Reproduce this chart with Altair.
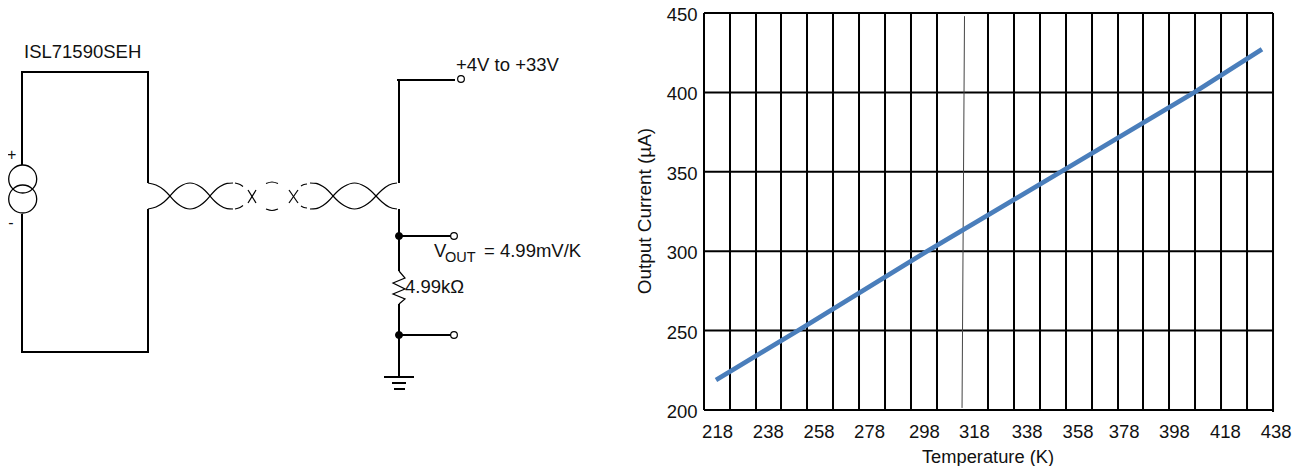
import altair as alt
import pandas as pd

FONT = "Liberation Sans"
INK = "#111111"

# ---------- temperature / current chart ----------
temp_read = [218.0, 249.7, 299.5, 351.2, 402.6, 428.8]
current_read = [218.9, 250.0, 300.0, 350.0, 400.0, 427.2]
grid_temp = [213.37, 223.41, 233.45, 243.1, 253.14, 263.18, 273.22, 283.26, 293.29, 303.33,
             323.02, 333.06, 343.1, 353.14, 363.18, 373.22, 382.87, 392.91, 402.95, 412.99,
             423.03, 433.07]
grid_floor = [200.0] * 21 + [198.8]
stray_temp = [313.95, 313.0]
stray_current = [448.0, 201.3]
y_ticks = [200, 250, 300, 350, 400, 450]
x_tick_names = ["218", "238", "258", "278", "298", "318", "338", "358", "378", "398", "418", "438"]
x_tick_at = [218.4, 238.0, 257.6, 277.1, 298.3, 317.6, 337.96, 357.6, 375.4, 394.8, 414.5, 434.1]

# ---------- schematic paths (drawing units) ----------
box_upper = [(22, 165), (22, 72), (148, 72), (148, 183)]
box_lower = [(22, 214), (22, 352), (148, 352), (148, 209)]
supply_top = [(397, 80), (455, 80)]
supply_rail = [(399, 80), (399, 183)]
rail_mid = [(399, 209), (399, 271)]
rail_low = [(399, 304), (399, 377)]
vout_lead = [(399, 236), (451, 236)]
return_lead = [(399, 335), (451, 335)]
ground_1 = [(384, 377), (414, 377)]
ground_2 = [(392, 383), (406, 383)]
ground_3 = [(394, 389), (405, 389)]
thick_paths = [box_upper, box_lower, supply_top, supply_rail, rail_mid, rail_low,
               vout_lead, return_lead, ground_1, ground_2, ground_3]

twist_a = [(148, 183), (156, 185), (164, 190), (170, 196)]
twist_b = [(148, 209), (156, 207), (164, 202), (170, 196)]
lobe1_t = [(170, 196), (175, 190.5), (180, 186.5), (190, 183), (200, 186.5), (205, 190.5), (210, 196)]
lobe1_b = [(170, 196), (175, 201.5), (180, 205.5), (190, 209), (200, 205.5), (205, 201.5), (210, 196)]
lobe2_t = [(210, 196), (215, 190.5), (220, 186.5), (227, 183.3), (233, 183)]
lobe2_b = [(210, 196), (215, 201.5), (220, 205.5), (227, 208.7), (233, 209)]
dash2_t = [(235, 183), (240, 184.5), (243, 186.5)]
dash2_b = [(235, 209), (240, 207.5), (243, 205.5)]
cross1_a = [(248, 190), (256, 203)]
cross1_b = [(248, 203), (256, 190)]
gap_t = [(266, 183.5), (272, 182), (278, 183.5)]
gap_b = [(266, 209), (272, 210.5), (278, 209)]
cross2_a = [(289, 190), (298, 203)]
cross2_b = [(289, 203), (298, 190)]
dash3_t = [(301, 186), (304, 184.5), (307, 184)]
dash3_b = [(301, 206), (304, 207.5), (307, 208)]
lobe3_t = [(310, 183), (316, 183.3), (323, 186.5), (328, 190.5), (333, 196)]
lobe3_b = [(310, 209), (316, 208.7), (323, 205.5), (328, 201.5), (333, 196)]
lobe4_t = [(333, 196), (338.5, 190.5), (344, 186.5), (354.5, 183), (365, 186.5), (370.5, 190.5), (376, 196)]
lobe4_b = [(333, 196), (338.5, 201.5), (344, 205.5), (354.5, 209), (365, 205.5), (370.5, 201.5), (376, 196)]
twist_c = [(376, 196), (382, 190), (389, 185), (397, 183)]
twist_d = [(376, 196), (382, 202), (389, 207), (397, 209)]
resistor = [(399, 271), (405, 278), (393, 283), (405, 289), (393, 294), (405, 299), (399, 304)]
thin_curves = [twist_a, twist_b, lobe1_t, lobe1_b, lobe2_t, lobe2_b, dash2_t, dash2_b,
               gap_t, gap_b, dash3_t, dash3_b, lobe3_t, lobe3_b, lobe4_t, lobe4_b,
               twist_c, twist_d]
thin_straight = [cross1_a, cross1_b, cross2_a, cross2_b, resistor]

coil_x = [22.7, 22.7]
coil_y = [179, 199]
dot_x = [399, 399]
dot_y = [236, 335]
term_x = [461, 454, 454]
term_y = [79, 236, 335]

label_text = ["ISL71590SEH", "+4V to +33V", "V", "= 4.99mV/K", "4.99k\u03a9"]
label_x = [24, 456, 434, 484, 405]
label_y = [58, 71, 257, 257, 293]
sign_text = ["+", "-"]
sign_x = [7, 8.2]
sign_y = [160, 228]
sub_text = ["OUT"]
sub_x = [445]
sub_y = [262]


def rows(paths):
    out = []
    for pid, path in enumerate(paths):
        for i, (x, y) in enumerate(path):
            out.append({"id": pid, "i": i, "x": x, "y": y})
    return pd.DataFrame(out)


W1, H = 600, 397
sx = alt.Scale(domain=[8, 608], nice=False, zero=False)
sy = alt.Scale(domain=[410, 13], nice=False, zero=False)
X = alt.X("x:Q", scale=sx, axis=None)
Y = alt.Y("y:Q", scale=sy, axis=None)


def wires(paths, width, interp="linear"):
    return alt.Chart(rows(paths)).mark_line(
        color="black", strokeWidth=width, interpolate=interp, clip=False
    ).encode(x=X, y=Y, detail="id:N", order="i:Q")


def circles(xs, ys, size, fill, width):
    return alt.Chart(pd.DataFrame({"x": xs, "y": ys})).mark_point(
        shape="circle", filled=True, fill=fill, stroke="black", size=size,
        strokeWidth=width, opacity=1, fillOpacity=1
    ).encode(x=X, y=Y)


def texts(t, xs, ys, size):
    return alt.Chart(pd.DataFrame({"t": t, "x": xs, "y": ys})).mark_text(
        align="left", baseline="alphabetic", font=FONT, fontSize=size, color=INK
    ).encode(x=X, y=Y, text="t:N")


coils = alt.Chart(pd.DataFrame({"x": coil_x, "y": coil_y})).mark_point(
    shape="circle", filled=False, stroke="black", size=784, strokeWidth=1.3, opacity=1
).encode(x=X, y=Y)

schematic = alt.layer(
    wires(thick_paths, 2),
    wires(thin_curves, 1.2, "monotone"),
    wires(thin_straight, 1.2),
    coils,
    circles(dot_x, dot_y, 49, "black", 1),
    circles(term_x, term_y, 45, "white", 1.2),
    texts(label_text, label_x, label_y, 18.5),
    texts(sign_text, sign_x, sign_y, 16),
    texts(sub_text, sub_x, sub_y, 14.5),
).properties(width=W1, height=H)

# ---------- measured chart ----------
W2 = 573
tx = alt.Scale(domain=[213.37, 213.37 + W2 / 2.59], nice=False, zero=False)
ty = alt.Scale(domain=[200, 450], nice=False, zero=False)
label_map = ",".join(f"'{a:g}':'{b}'" for a, b in zip(x_tick_at, x_tick_names))

x_axis = alt.Axis(
    title="Temperature (K)", values=x_tick_at, labelExpr="{" + label_map + "}[datum.value]",
    grid=False, domain=False, ticks=False, labelFont=FONT, labelFontSize=18.5, labelColor=INK,
    labelPadding=12, labelOverlap=False, labelFlush=False, titleFont=FONT, titleFontSize=18.3,
    titleColor=INK, titleFontWeight="normal", titlePadding=7.5, titleX=283.5,
)
y_axis = alt.Axis(
    title="Output Current (\u00b5A)", values=y_ticks, grid=False,
    domain=False, ticks=False, labelFont=FONT, labelFontSize=18.5, labelColor=INK,
    labelPadding=7, labelOffset=1.5, titleFont=FONT, titleFontSize=18.9, titleColor=INK,
    titleFontWeight="normal", titlePadding=12, titleY=197.5,
)

vgrid = alt.Chart(pd.DataFrame({"t": grid_temp, "c": [450.0] * len(grid_temp), "f": grid_floor})).mark_rule(
    color="black", strokeWidth=2
).encode(x=alt.X("t:Q", scale=tx, axis=x_axis), y=alt.Y("c:Q", scale=ty, axis=y_axis), y2="f:Q")

hgrid = alt.Chart(pd.DataFrame({"c": y_ticks, "a": [grid_temp[0]] * 6, "b": [grid_temp[-1]] * 6})).mark_rule(
    color="black", strokeWidth=2
).encode(x=alt.X("a:Q", scale=tx), x2="b:Q", y=alt.Y("c:Q", scale=ty))

stray = alt.Chart(pd.DataFrame({"t": stray_temp, "c": stray_current})).mark_line(
    color="#444444", strokeWidth=1
).encode(x=alt.X("t:Q", scale=tx), y=alt.Y("c:Q", scale=ty))

trace = alt.Chart(pd.DataFrame({"t": temp_read, "c": current_read})).mark_line(
    color="#4a7ebb", strokeWidth=4.7, strokeCap="butt"
).encode(x=alt.X("t:Q", scale=tx), y=alt.Y("c:Q", scale=ty))

plot = alt.layer(vgrid, hgrid, stray, trace).properties(width=W2, height=H)

chart = alt.hconcat(schematic, plot, spacing=27).properties(
    padding={"left": -2, "top": -3, "right": 0, "bottom": 0}, background="white"
).configure_view(stroke=None)

chart.save("out.html", embed_options={"renderer": "svg", "actions": False})
